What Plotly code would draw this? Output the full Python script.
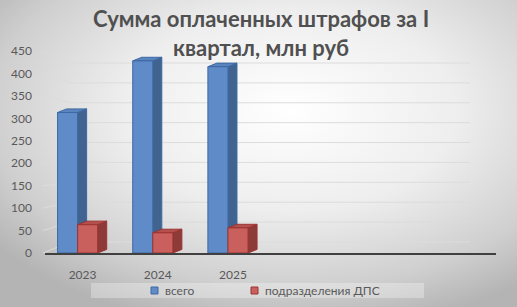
import base64
import plotly.graph_objects as go

# ---- data ----
years = ["2023", "2024", "2025"]
total = [313, 428, 415]
dps = [63, 45, 56]
series_names = ["всего", "подразделения ДПС"]
y_ticks = [0, 50, 100, 150, 200, 250, 300, 350, 400, 450]
title_lines = ["Сумма оплаченных штрафов за I", "квартал, млн руб"]

# ---- styling ----
front_col = ["#5f8bc8", "#c9605d"]
side_col = ["#40638f", "#8d3b39"]
top_col = ["#5a84bd", "#b4504d"]
edge_col = ["#3d68a3", "#9a3431"]
n_slots = 6
bar_w = 0.267
offsets = [-0.333, -0.066]
dx = 0.12     # depth in category units
dyv = 8.0     # depth rise in value units

W, H = 517, 307
L, R, T, B = 45, 21, 40, 54
plot_w = W - L - R
plot_h = H - T - B
front_scale = (253 - 51) / 450.0
back_scale = (242 - 63) / 450.0
back_zero_px = 242
y_top_front = plot_h / front_scale
y2_bottom = -(253 - back_zero_px) / back_scale
y2_top = (back_zero_px - T) / back_scale

def px_to_paper_x(px):
    return (px - L) / plot_w

def px_to_paper_y(py):
    return (H - B - py) / plot_h

fig = go.Figure()

traces_data = [total, dps]
for s in range(2):
    vals = traces_data[s]
    for i, v in enumerate(vals):
        xl = i + offsets[s]
        xr = xl + bar_w
        fig.add_trace(go.Scatter(
            x=[xr, xr + dx, xr + dx, xr, xr], y=[0, dyv, v + dyv, v, 0],
            fill="toself", fillcolor=side_col[s], mode="lines",
            line=dict(color=edge_col[s], width=1), showlegend=False, hoverinfo="skip"))
        fig.add_trace(go.Scatter(
            x=[xl, xr, xr + dx, xl + dx, xl], y=[v, v, v + dyv, v + dyv, v],
            fill="toself", fillcolor=top_col[s], mode="lines",
            line=dict(color=edge_col[s], width=1), showlegend=False, hoverinfo="skip"))
        fig.add_trace(go.Scatter(
            x=[xl, xr, xr, xl, xl], y=[0, 0, v, v, 0],
            fill="toself", fillcolor=front_col[s], mode="lines",
            line=dict(color=edge_col[s], width=1), showlegend=False, hoverinfo="skip"))

shapes = []
for v in y_ticks:
    yf = 253 - v * front_scale
    yb = back_zero_px - v * back_scale
    shapes.append(dict(type="line", xref="paper", yref="paper",
                       x0=px_to_paper_x(43), y0=px_to_paper_y(yf),
                       x1=px_to_paper_x(70), y1=px_to_paper_y(yb),
                       line=dict(color="#dcdcdc", width=1), layer="below"))
    shapes.append(dict(type="line", xref="paper", yref="y2",
                       x0=px_to_paper_x(70), x1=px_to_paper_x(470), y0=v, y1=v,
                       line=dict(color="#dcdcdc", width=1), layer="below"))

# legend band
shapes.append(dict(type="rect", xref="paper", yref="paper",
                   x0=px_to_paper_x(91), x1=px_to_paper_x(424),
                   y0=px_to_paper_y(298), y1=px_to_paper_y(283),
                   fillcolor="rgba(255,255,255,0.3)", line=dict(width=0), layer="below"))

annotations = []
# manual legend
legend_sym_px = [151, 251]
for s in range(2):
    x0 = legend_sym_px[s]
    shapes.append(dict(type="rect", xref="paper", yref="paper",
                       x0=px_to_paper_x(x0), x1=px_to_paper_x(x0 + 7),
                       y0=px_to_paper_y(294), y1=px_to_paper_y(287),
                       fillcolor=front_col[s], line=dict(color=edge_col[s], width=1)))
    annotations.append(dict(text=series_names[s], xref="paper", yref="paper",
                            x=px_to_paper_x(x0 + 12), y=px_to_paper_y(290.5),
                            xanchor="left", yanchor="middle", showarrow=False,
                            font=dict(size=12, color="#595959")))

# title lines
font_main = "Lato, 'Open Sans', sans-serif"
title_y = [19, 47]
for k, line in enumerate(title_lines):
    annotations.append(dict(text=f"<b>{line}</b>", xref="paper", yref="paper",
                            x=px_to_paper_x(261), y=px_to_paper_y(title_y[k]),
                            xanchor="center", yanchor="middle", showarrow=False,
                            font=dict(family=font_main, size=22, color="#505050")))

svg = f'''<svg xmlns="http://www.w3.org/2000/svg" width="{W}" height="{H}" viewBox="0 0 {W} {H}" preserveAspectRatio="none">
<defs><radialGradient id="g" cx="0.56" cy="0.36" r="0.72">
<stop offset="0" stop-color="#ffffff"/><stop offset="0.45" stop-color="#eeeeee"/>
<stop offset="0.8" stop-color="#cfcfcf"/><stop offset="1" stop-color="#b4b4b4"/>
</radialGradient></defs><rect width="{W}" height="{H}" fill="url(#g)"/></svg>'''
src = "data:image/svg+xml;base64," + base64.b64encode(svg.encode()).decode()

fig.update_layout(
    width=W, height=H,
    margin=dict(l=L, r=R, t=T, b=B, pad=0, autoexpand=False),
    paper_bgcolor="#d8d8d8", plot_bgcolor="rgba(0,0,0,0)",
    images=[dict(source=src, xref="paper", yref="paper",
                 x=-L / plot_w, y=1 + T / plot_h, sizex=W / plot_w, sizey=H / plot_h,
                 sizing="stretch", xanchor="left", yanchor="top", layer="below")],
    shapes=shapes,
    annotations=annotations,
    font=dict(family=font_main, size=12, color="#595959"),
    xaxis=dict(range=[-0.5, n_slots - 0.5], tickvals=list(range(len(years))), ticktext=years,
               showgrid=False, zeroline=False, showline=True, linecolor="#404040", linewidth=2,
               ticks="", ticklabelstandoff=10, fixedrange=True,
               tickfont=dict(size=12, color="#595959")),
    yaxis=dict(range=[0, y_top_front], tickvals=y_ticks, showgrid=False, zeroline=False,
               showline=False, ticks="", ticklabelstandoff=12,
               tickfont=dict(size=12, color="#595959")),
    yaxis2=dict(range=[y2_bottom, y2_top], overlaying="y", showgrid=False, zeroline=False,
                showticklabels=False, showline=False),
    showlegend=False,
)
fig.write_html("out.html")
